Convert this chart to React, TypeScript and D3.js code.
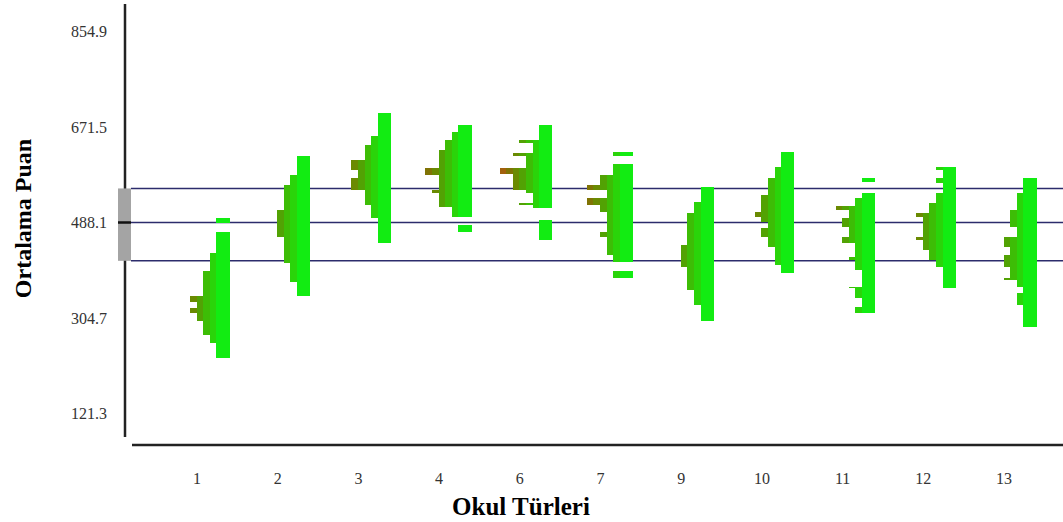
import React from "react";
import * as d3 from "d3";

// School types (x categories)
const categories = ["1", "2", "3", "4", "6", "7", "9", "10", "11", "12", "13"];
// Y tick labels (score)
const yTicks = [121.3, 304.7, 488.1, 671.5, 854.9];
// Reference lines: upper band, overall mean, lower band
const bandUpper = 553.5;
const overallMean = 488.1;
const bandLower = 414.5;

// Histogram bin edges (score, top to bottom) and bar lengths per bin (0 = gap)
const edges1 = [496, 487, 470, 429, 394, 346, 336, 323, 314, 298, 272, 256, 227];
const units1 = [2, 0, 2, 3, 4, 6, 5, 6, 5, 4, 3, 2];
const edges2 = [616, 579, 560, 512, 461, 410, 374, 346];
const units2 = [2, 3, 4, 5, 4, 3, 2];
const edges3 = [698, 654, 637, 608, 589, 573, 551, 522, 496, 448];
const units3 = [2, 3, 4, 6, 5, 6, 4, 3, 2];
const edges4 = [675, 662, 646, 627, 592, 579, 550, 545, 518, 499, 483, 470];
const units4 = [2, 3, 4, 5, 7, 5, 6, 5, 3, 0, 2];
const edges6 = [675, 647, 640, 622, 615, 592, 581, 551, 545, 526, 522, 515, 493, 455, 442];
const units6 = [2, 5, 3, 6, 4, 8, 6, 4, 3, 5, 3, 0, 2];
const edges7 = [624, 616, 601, 579, 560, 551, 535, 522, 509, 470, 461, 426, 413, 394, 381];
const units7 = [3, 0, 3, 5, 7, 4, 7, 5, 4, 5, 4, 3, 0, 3];
const edges9 = [557, 528, 506, 445, 403, 359, 330, 298];
const units9 = [2, 3, 4, 5, 4, 3, 2];
const edges10 = [624, 595, 573, 541, 509, 499, 490, 477, 461, 442, 407, 391];
const units10 = [2, 3, 4, 5, 6, 5, 4, 5, 4, 3, 2];
const edges11 = [573, 565, 544, 535, 519, 512, 496, 480, 461, 448, 422, 416, 397, 365, 362, 343, 326, 314];
const units11 = [2, 0, 2, 3, 6, 4, 5, 4, 5, 3, 4, 3, 2, 4, 3, 2, 3];
const edges12 = [595, 589, 573, 563, 544, 525, 506, 499, 461, 455, 435, 416, 403, 362];
const units12 = [3, 2, 3, 2, 3, 4, 6, 5, 6, 5, 4, 3, 2];
const edges13 = [573, 544, 512, 480, 461, 442, 426, 403, 381, 378, 365, 352, 330, 288];
const units13 = [2, 3, 4, 3, 5, 4, 5, 4, 5, 3, 2, 3, 2];

const groupEdges = [edges1, edges2, edges3, edges4, edges6, edges7, edges9, edges10, edges11, edges12, edges13];
const groupUnits = [units1, units2, units3, units4, units6, units7, units9, units10, units11, units12, units13];

const cellColors = ["#12ec12", "#12ec12", "#2ad40a", "#3dbd06", "#52a204", "#6a8a02", "#807304", "#a2600c", "#c05818"];

const W = 1063;
const H = 522;

export default function App() {
  const y = d3.scaleLinear().domain([121.3, 854.9]).range([413.5, 31.5]);
  const x = d3.scalePoint<string>().domain(categories).range([197, 1004]);
  const len = d3.scaleLinear().domain([0, 1]).range([0, 6.6]);
  const rightOffset = 32.5;
  const color = (k: number) => cellColors[Math.min(k, cellColors.length - 1)];

  const cells: React.ReactElement[] = [];
  categories.forEach((c, gi) => {
    const right = (x(c) as number) + rightOffset;
    const e = groupEdges[gi];
    const u = groupUnits[gi];
    u.forEach((n, bi) => {
      const y0 = y(e[bi]);
      const y1 = y(e[bi + 1]);
      for (let k = 0; k < n; k++) {
        cells.push(
          <rect
            key={`${gi}-${bi}-${k}`}
            x={right - len(k + 1)}
            y={y0}
            width={len(1)}
            height={y1 - y0}
            fill={color(k)}
            shapeRendering="crispEdges"
          />
        );
      }
    });
  });

  const serif = "'Liberation Serif', 'Times New Roman', serif";

  return (
    <svg
      width={W}
      height={H}
      style={{ position: "absolute", left: 0, top: 0, background: "#fff" }}
    >
      <rect x={0} y={0} width={W} height={H} fill="#fff" />
      {/* reference lines */}
      {[bandUpper, overallMean, bandLower].map((v, i) => (
        <line key={i} x1={131} x2={W} y1={y(v)} y2={y(v)} stroke="#2c2c6c" strokeWidth={1.5} />
      ))}
      {/* y axis */}
      <line x1={125} x2={125} y1={4} y2={437} stroke="#222" strokeWidth={2.5} />
      {/* x axis */}
      <line x1={132} x2={W} y1={445} y2={445} stroke="#222" strokeWidth={2.5} />
      {/* gray band box and mean marker */}
      <rect x={118} y={y(bandUpper)} width={13} height={y(bandLower) - y(bandUpper)} fill="#a4a4a4" />
      <line x1={118} x2={131} y1={y(overallMean)} y2={y(overallMean)} stroke="#111" strokeWidth={2.5} />
      {/* histograms */}
      <g>{cells}</g>
      {/* y tick labels */}
      {yTicks.map((t) => (
        <text
          key={t}
          x={107}
          y={y(t)}
          textAnchor="end"
          dominantBaseline="central"
          fontFamily={serif}
          fontSize={16}
          fill="#333"
        >
          {t.toFixed(1)}
        </text>
      ))}
      {/* x tick labels */}
      {categories.map((c) => (
        <text
          key={c}
          x={x(c) as number}
          y={478}
          textAnchor="middle"
          dominantBaseline="central"
          fontFamily={serif}
          fontSize={16}
          fill="#333"
        >
          {c}
        </text>
      ))}
      {/* axis titles */}
      <text x={521} y={515} textAnchor="middle" fontFamily={serif} fontWeight="bold" fontSize={25} fill="#000">
        Okul Türleri
      </text>
      <text
        transform={`translate(31,218.5) rotate(-90)`}
        textAnchor="middle"
        fontFamily={serif}
        fontWeight="bold"
        fontSize={24}
        fill="#000"
      >
        Ortalama Puan
      </text>
    </svg>
  );
}
